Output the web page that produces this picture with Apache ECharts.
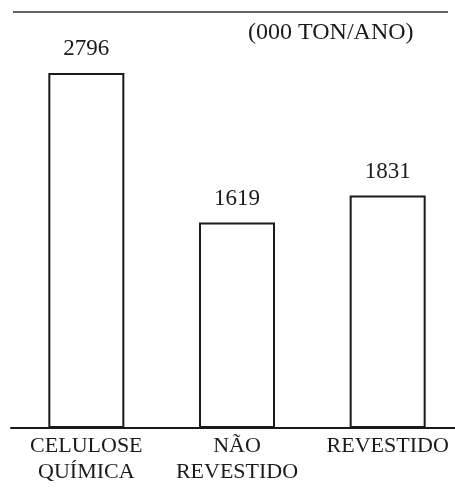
<!DOCTYPE html>
<html>
<head>
<meta charset="utf-8">
<script src="https://cdn.jsdelivr.net/npm/echarts@6/dist/echarts.min.js"></script>
<style>
  html, body { margin: 0; padding: 0; background: #fff; }
  #chart { width: 455px; height: 495px; }
</style>
</head>
<body>
<div id="chart"></div>
<script>
// Paper production by type, thousand tonnes per year
const categories = ['CELULOSE\nQUÍMICA', 'NÃO\nREVESTIDO', 'REVESTIDO'];
const production = [2796, 1619, 1831];
const unitLabel = '(000 TON/ANO)';

const serif = '"Liberation Serif", "DejaVu Serif", serif';
const ink = '#1a1a1a';

const chart = echarts.init(document.getElementById('chart'));
chart.setOption({
  backgroundColor: '#fff',
  animation: false,
  title: {
    text: unitLabel,
    left: 243,
    top: 16,
    textStyle: { fontFamily: serif, fontSize: 24, fontWeight: 'normal', color: ink }
  },
  graphic: [{
    type: 'line',
    shape: { x1: 13, y1: 12, x2: 448, y2: 12 },
    style: { stroke: '#333', lineWidth: 1.5 }
  }],
  grid: { left: 11, width: 452, top: 47, bottom: 67, outerBoundsMode: 'none' },
  xAxis: {
    type: 'category',
    data: categories,
    axisTick: { show: false },
    axisLine: { lineStyle: { color: ink, width: 2 } },
    axisLabel: {
      fontFamily: serif, fontSize: 22, color: ink,
      lineHeight: 26, margin: 5, interval: 0
    }
  },
  yAxis: {
    type: 'value',
    min: 0,
    max: 3000,
    show: false,
    splitLine: { show: false }
  },
  series: [{
    type: 'bar',
    data: production,
    barWidth: 76,
    itemStyle: { color: '#fff', borderColor: ink, borderWidth: 2 },
    label: {
      show: true,
      position: 'top',
      distance: 12,
      fontFamily: serif,
      fontSize: 23,
      color: ink
    }
  }]
});
</script>
</body>
</html>
